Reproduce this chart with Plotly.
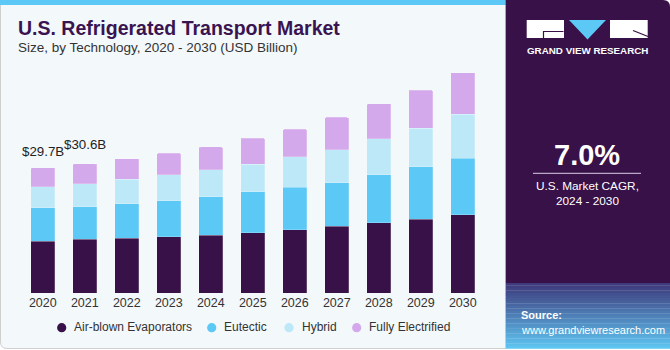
import plotly.graph_objects as go

# ---------------- data ----------------
years = ["2020", "2021", "2022", "2023", "2024", "2025", "2026", "2027", "2028", "2029", "2030"]
air_blown = [12.3, 12.7, 13.0, 13.3, 13.7, 14.3, 15.0, 15.8, 16.6, 17.5, 18.55]
eutectic = [7.9, 7.75, 8.2, 8.6, 9.15, 9.7, 10.05, 10.3, 11.45, 12.4, 13.4]
hybrid = [5.0, 5.45, 5.77, 6.1, 6.3, 6.5, 7.2, 7.9, 8.5, 9.2, 10.4]
fully_electrified = [4.5, 4.7, 4.9, 5.1, 5.45, 6.2, 6.55, 7.6, 8.3, 9.0, 9.9]
series_names = ["Air-blown Evaporators", "Eutectic", "Hybrid", "Fully Electrified"]
label_years = ["2020", "2021"]
label_texts = ["$29.7B", "$30.6B"]

# ---------------- style ----------------
W, H = 670, 350
colors = ["#371147", "#5BC8F5", "#BDE8F8", "#D4A9EB"]
FONT = "Liberation Sans, Arial, sans-serif"
legend_dot_x = [61.7, 211.7, 289, 356.7]  # legend layout positions (px)
legend_y = 327.7


def px(x):
    return x / W


def py(y):
    return 1 - y / H


fig = go.Figure()
for name, vals, col in zip(series_names, [air_blown, eutectic, hybrid, fully_electrified], colors):
    fig.add_trace(go.Bar(x=years, y=vals, name=name,
                         marker=dict(color=col, line=dict(width=0.6, color="rgba(255,255,255,0.35)")),
                         showlegend=False, hoverinfo="x+y+name"))

shapes = []
# light chart panel
shapes.append(dict(type="path", xref="paper", yref="paper",
                   path=f"M {px(0.5)} {py(3)} L {px(506)} {py(3)} L {px(506)} {py(348.5)} L {px(7)} {py(348.5)} "
                        f"Q {px(0.5)} {py(348.5)} {px(0.5)} {py(342)} Z",
                   fillcolor="#F3F8FB", line=dict(color="#CFCFCF", width=1), layer="below"))
# top blue strip
shapes.append(dict(type="rect", xref="paper", yref="paper", x0=px(0), x1=px(506), y0=py(0), y1=py(5),
                   fillcolor="#5BC8F5", line=dict(width=0), layer="below"))
# dark right panel with rounded top-right
shapes.append(dict(type="path", xref="paper", yref="paper",
                   path=f"M {px(505.7)} {py(0)} L {px(663)} {py(0)} Q {px(670)} {py(0)} {px(670)} {py(7)} "
                        f"L {px(670)} {py(283)} L {px(505.7)} {py(283)} Z",
                   fillcolor="#371147", line=dict(width=0), layer="below"))
# gradient source area
c0 = (0x3E, 0x3A, 0x7C)
c1 = (0x5E, 0xC4, 0xF0)
n = 26
y_top, y_bot = 283, 348.5
for i in range(n):
    t = i / (n - 1)
    c = tuple(int(round(a + (b - a) * t)) for a, b in zip(c0, c1))
    ya = y_top + (y_bot - y_top) * i / n
    yb = y_top + (y_bot - y_top) * (i + 1) / n + 0.3
    shapes.append(dict(type="rect", xref="paper", yref="paper", x0=px(505.7), x1=px(670), y0=py(ya), y1=py(yb),
                       fillcolor=f"rgb{c}", line=dict(width=0), layer="below"))
# logo
shapes.append(dict(type="rect", xref="paper", yref="paper", x0=px(526.7), x1=px(564), y0=py(20), y1=py(38),
                   fillcolor="white", line=dict(width=0)))
shapes.append(dict(type="path", xref="paper", yref="paper",
                   path=f"M {px(563.5)} {py(31.5)} L {px(543.5)} {py(31.5)} L {px(543.5)} {py(38)}",
                   line=dict(color="#371147", width=1.2)))
shapes.append(dict(type="path", xref="paper", yref="paper",
                   path=f"M {px(569)} {py(20)} L {px(606)} {py(20)} L {px(587.5)} {py(39.5)} Z",
                   fillcolor="#5BC8F5", line=dict(width=0)))
shapes.append(dict(type="rect", xref="paper", yref="paper", x0=px(610), x1=px(647.7), y0=py(20), y1=py(38),
                   fillcolor="white", line=dict(width=0)))
shapes.append(dict(type="line", xref="paper", yref="paper", x0=px(633), x1=px(648), y0=py(30.5), y1=py(36.5),
                   line=dict(color="#371147", width=1.2)))
# CAGR separator line
shapes.append(dict(type="line", xref="paper", yref="paper", x0=px(533), x1=px(641), y0=py(173.3), y1=py(173.3),
                   line=dict(color="#B9A9C6", width=1.2)))

annotations = []


def txt(text, x, y, size, color, bold=False, xanchor="left", family=FONT):
    annotations.append(dict(text=f"<b>{text}</b>" if bold else text, x=px(x), y=py(y), xref="paper", yref="paper",
                            xanchor=xanchor, yanchor="middle", showarrow=False,
                            font=dict(size=size, color=color, family=family)))


txt("U.S. Refrigerated Transport Market", 16, 28.5, 19.5, "#3A1450", bold=True)
txt("Size, by Technology, 2020 - 2030 (USD Billion)", 16, 47, 13.5, "#333333")
txt("GRAND VIEW RESEARCH", 587.5, 51, 9.8, "white", bold=True, xanchor="center")
txt("7.0%", 587, 155, 29, "white", bold=True, xanchor="center")
txt("U.S. Market CAGR,", 587, 186.5, 11.8, "white", xanchor="center")
txt("2024 - 2030", 587, 201, 11.8, "white", xanchor="center")
txt("Source:", 518.5, 315, 11, "white", bold=True)
txt("www.grandviewresearch.com", 518.5, 330, 11, "white")

# legend (dots + labels)
r = 4.6
for name, col, cx in zip(series_names, colors, legend_dot_x):
    shapes.append(dict(type="circle", xref="paper", yref="paper", x0=px(cx - r), x1=px(cx + r),
                       y0=py(legend_y + r), y1=py(legend_y - r), fillcolor=col, line=dict(width=0)))
    txt(name, cx + 10.5, legend_y - 0.3, 12, "#333333")

totals = [a + b + c + d for a, b, c, d in zip(air_blown, eutectic, hybrid, fully_electrified)]
for yr, t, shift in zip(label_years, label_texts, [16, 19]):
    i = years.index(yr)
    annotations.append(dict(text=t, x=i, y=totals[i], xref="x", yref="y", yshift=shift, showarrow=False,
                            yanchor="middle", xanchor="center", font=dict(size=13.3, color="#222222", family=FONT)))

scale = 4.22  # px per billion
fig.update_layout(
    width=W, height=H, margin=dict(l=0, r=0, t=0, b=0),
    paper_bgcolor="white", plot_bgcolor="rgba(0,0,0,0)",
    barmode="stack", bargap=0.42, barcornerradius=2,
    font=dict(family=FONT, color="#333333"),
    xaxis=dict(domain=[px(21.8), px(483.8)], range=[-0.5, 10.5], type="category",
               showgrid=False, showline=False, zeroline=False, ticks="",
               tickfont=dict(size=12.5, color="#333333", family=FONT)),
    yaxis=dict(domain=[py(293), py(60)], range=[0, (293 - 60) / scale], visible=False),
    shapes=shapes, annotations=annotations, showlegend=False,
)

fig.write_html("out.html")
